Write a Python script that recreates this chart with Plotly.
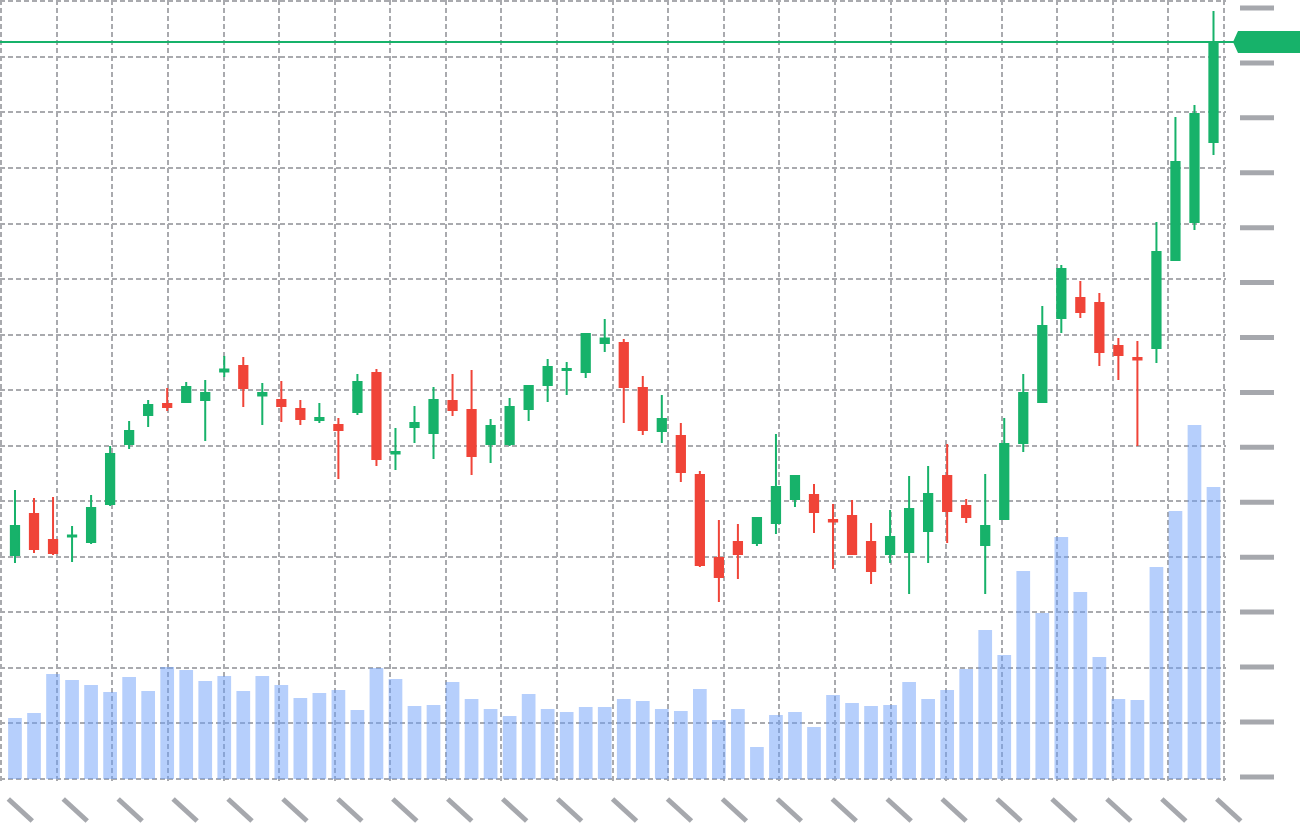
import plotly.graph_objects as go

# ---------------- data ----------------
opens = [245, 286, 260, 263.5, 258, 296, 356, 385, 396, 398,
         400, 428.5, 434, 404.5, 400, 391, 380, 375, 388, 427,
         346.5, 373, 367, 399, 390, 356, 356, 391, 415, 430,
         428, 457, 457, 412, 369, 364, 325, 242, 258, 257,
         277, 301, 305, 280, 284, 258, 246, 248, 269, 324,
         294, 255, 281, 357, 398, 482, 502, 497, 454, 442,
         452, 540, 578, 658]
highs = [310, 302, 303, 274, 305, 354, 379, 400, 412, 418,
         420, 444, 443, 417, 419, 400, 397, 382, 426, 431,
         372, 394, 413, 426, 430, 381, 402, 414, 441, 438,
         466, 481, 461, 424, 405, 377, 329, 280, 276, 282,
         366, 324, 316, 296, 300, 277, 290, 324, 334, 356,
         301, 326, 382, 426, 494, 535, 519, 507, 462, 459,
         578, 683, 695, 789]
lows = [237, 247, 245, 238, 256, 294, 351, 373, 389, 397.5,
        359, 423, 393, 375, 378, 375, 377, 321, 385, 334,
        330, 357, 341, 384, 325, 337, 354, 379, 398, 405,
        422, 448, 377, 365, 357, 318, 233, 198, 221, 254,
        266, 293, 267, 231, 245.5, 216, 237, 206, 237, 257,
        277, 206, 280.5, 348, 397, 467, 482, 434, 420, 354,
        437, 539.5, 570, 645]
closes = [274, 251, 247, 264.5, 292, 346, 369, 395, 393, 413,
          407, 430.5, 412, 407, 394, 381, 382, 370, 418, 341,
          348, 377, 400, 390, 344, 374, 393, 414, 433, 431,
          466, 461.5, 413, 370, 381, 328, 235, 223, 246, 282,
          313, 324, 288, 278.5, 246, 229, 263, 291, 306, 289,
          283, 274, 356, 407, 474, 531, 488, 448, 445, 440.5,
          548, 638, 686, 758]
volumes = [61, 66, 105, 99, 94, 87, 102, 88, 112, 109,
           98, 103, 88, 103, 94, 81, 86, 89, 69, 111,
           100, 73, 74, 97, 80, 70, 63, 85, 70, 67,
           72, 72, 80, 78, 70, 68, 90, 59, 70, 32,
           64, 67, 52, 84, 76, 73, 74, 97, 80, 89,
           110, 149, 124, 208, 166, 242, 187, 122, 80, 79,
           212, 268, 354, 292]
days = list(range(len(opens)))

# ---------------- style ----------------
GREEN = "#17b26a"
RED = "#f04438"
VOL = "rgba(110,160,250,0.5)"
GRID = "#a9aaae"
LABEL = "#a6a8ad"

FIG_W, FIG_H = 1300, 824
ML, MT, MR, MB = 0, 0, 74, 43
PW, PH = FIG_W - ML - MR, FIG_H - MT - MB


def px(x):
    return (x - ML) / PW


def py(y):
    return (MT + PH - y) / PH


fig = go.Figure()

# dummy trace to carry the background grid axes
fig.add_trace(go.Scatter(x=[None], y=[None], xaxis="x2", yaxis="y3",
                         showlegend=False, hoverinfo="skip"))

fig.add_trace(go.Bar(x=days, y=volumes, xaxis="x", yaxis="y2",
                     marker=dict(color=VOL, line=dict(width=0)),
                     showlegend=False))

fig.add_trace(go.Candlestick(
    x=days, open=opens, high=highs, low=lows, close=closes,
    increasing=dict(line=dict(color=GREEN, width=2), fillcolor=GREEN),
    decreasing=dict(line=dict(color=RED, width=2), fillcolor=RED),
    whiskerwidth=0, showlegend=False))

shapes = []
last = closes[-1]
# current price line and tag
shapes.append(dict(type="line", xref="paper", yref="y", x0=0, x1=px(1234),
                   y0=last, y1=last, line=dict(color=GREEN, width=2)))
shapes.append(dict(type="path", xref="paper", yref="y",
                   path=(f"M {px(1233)},{last} L {px(1238)},{last + 11} "
                         f"L {px(1300)},{last + 11} L {px(1300)},{last - 11} "
                         f"L {px(1238)},{last - 11} Z"),
                   fillcolor=GREEN, line=dict(width=0)))
# placeholder tick labels (right axis)
for k in range(15):
    yy = 8 + 54.92 * k
    shapes.append(dict(type="line", xref="paper", yref="paper",
                       x0=px(1240), x1=px(1274), y0=py(yy), y1=py(yy),
                       line=dict(color=LABEL, width=5)))
# placeholder tick labels (bottom axis, rotated)
for k in range(23):
    xx = 8.3 + 54.93 * k
    shapes.append(dict(type="line", xref="paper", yref="paper",
                       x0=px(xx), x1=px(xx + 24), y0=py(799), y1=py(821),
                       line=dict(color=LABEL, width=5)))

fig.update_layout(
    width=FIG_W, height=FIG_H,
    margin=dict(l=ML, r=MR, t=MT, b=MB, pad=0),
    paper_bgcolor="white", plot_bgcolor="white",
    showlegend=False, bargap=0.28, boxgap=0.38,
    shapes=shapes,
    xaxis=dict(range=[-0.788, 63.657], showgrid=False, zeroline=False,
               showticklabels=False, ticks="", rangeslider=dict(visible=False),
               fixedrange=True),
    xaxis2=dict(overlaying="x", range=[-0.0216, 22.036], dtick=1, tick0=0,
                showgrid=True, gridcolor=GRID, gridwidth=1.5, griddash="5px,3px",
                zeroline=False, showticklabels=False, ticks=""),
    yaxis=dict(range=[19, 800], showgrid=False, zeroline=False,
               showticklabels=False, ticks=""),
    yaxis2=dict(overlaying="y", range=[-2, 779], showgrid=False, zeroline=False,
                showticklabels=False, ticks=""),
    yaxis3=dict(overlaying="y", range=[-0.036, 14.0234], dtick=1, tick0=0,
                showgrid=True, gridcolor=GRID, gridwidth=1.5, griddash="5px,3px",
                zeroline=False, showticklabels=False, ticks=""),
)

fig.write_html(
    "out.html",
    config={"displayModeBar": False},
    post_script="document.body.style.margin='0';document.body.style.overflow='hidden';",
)
